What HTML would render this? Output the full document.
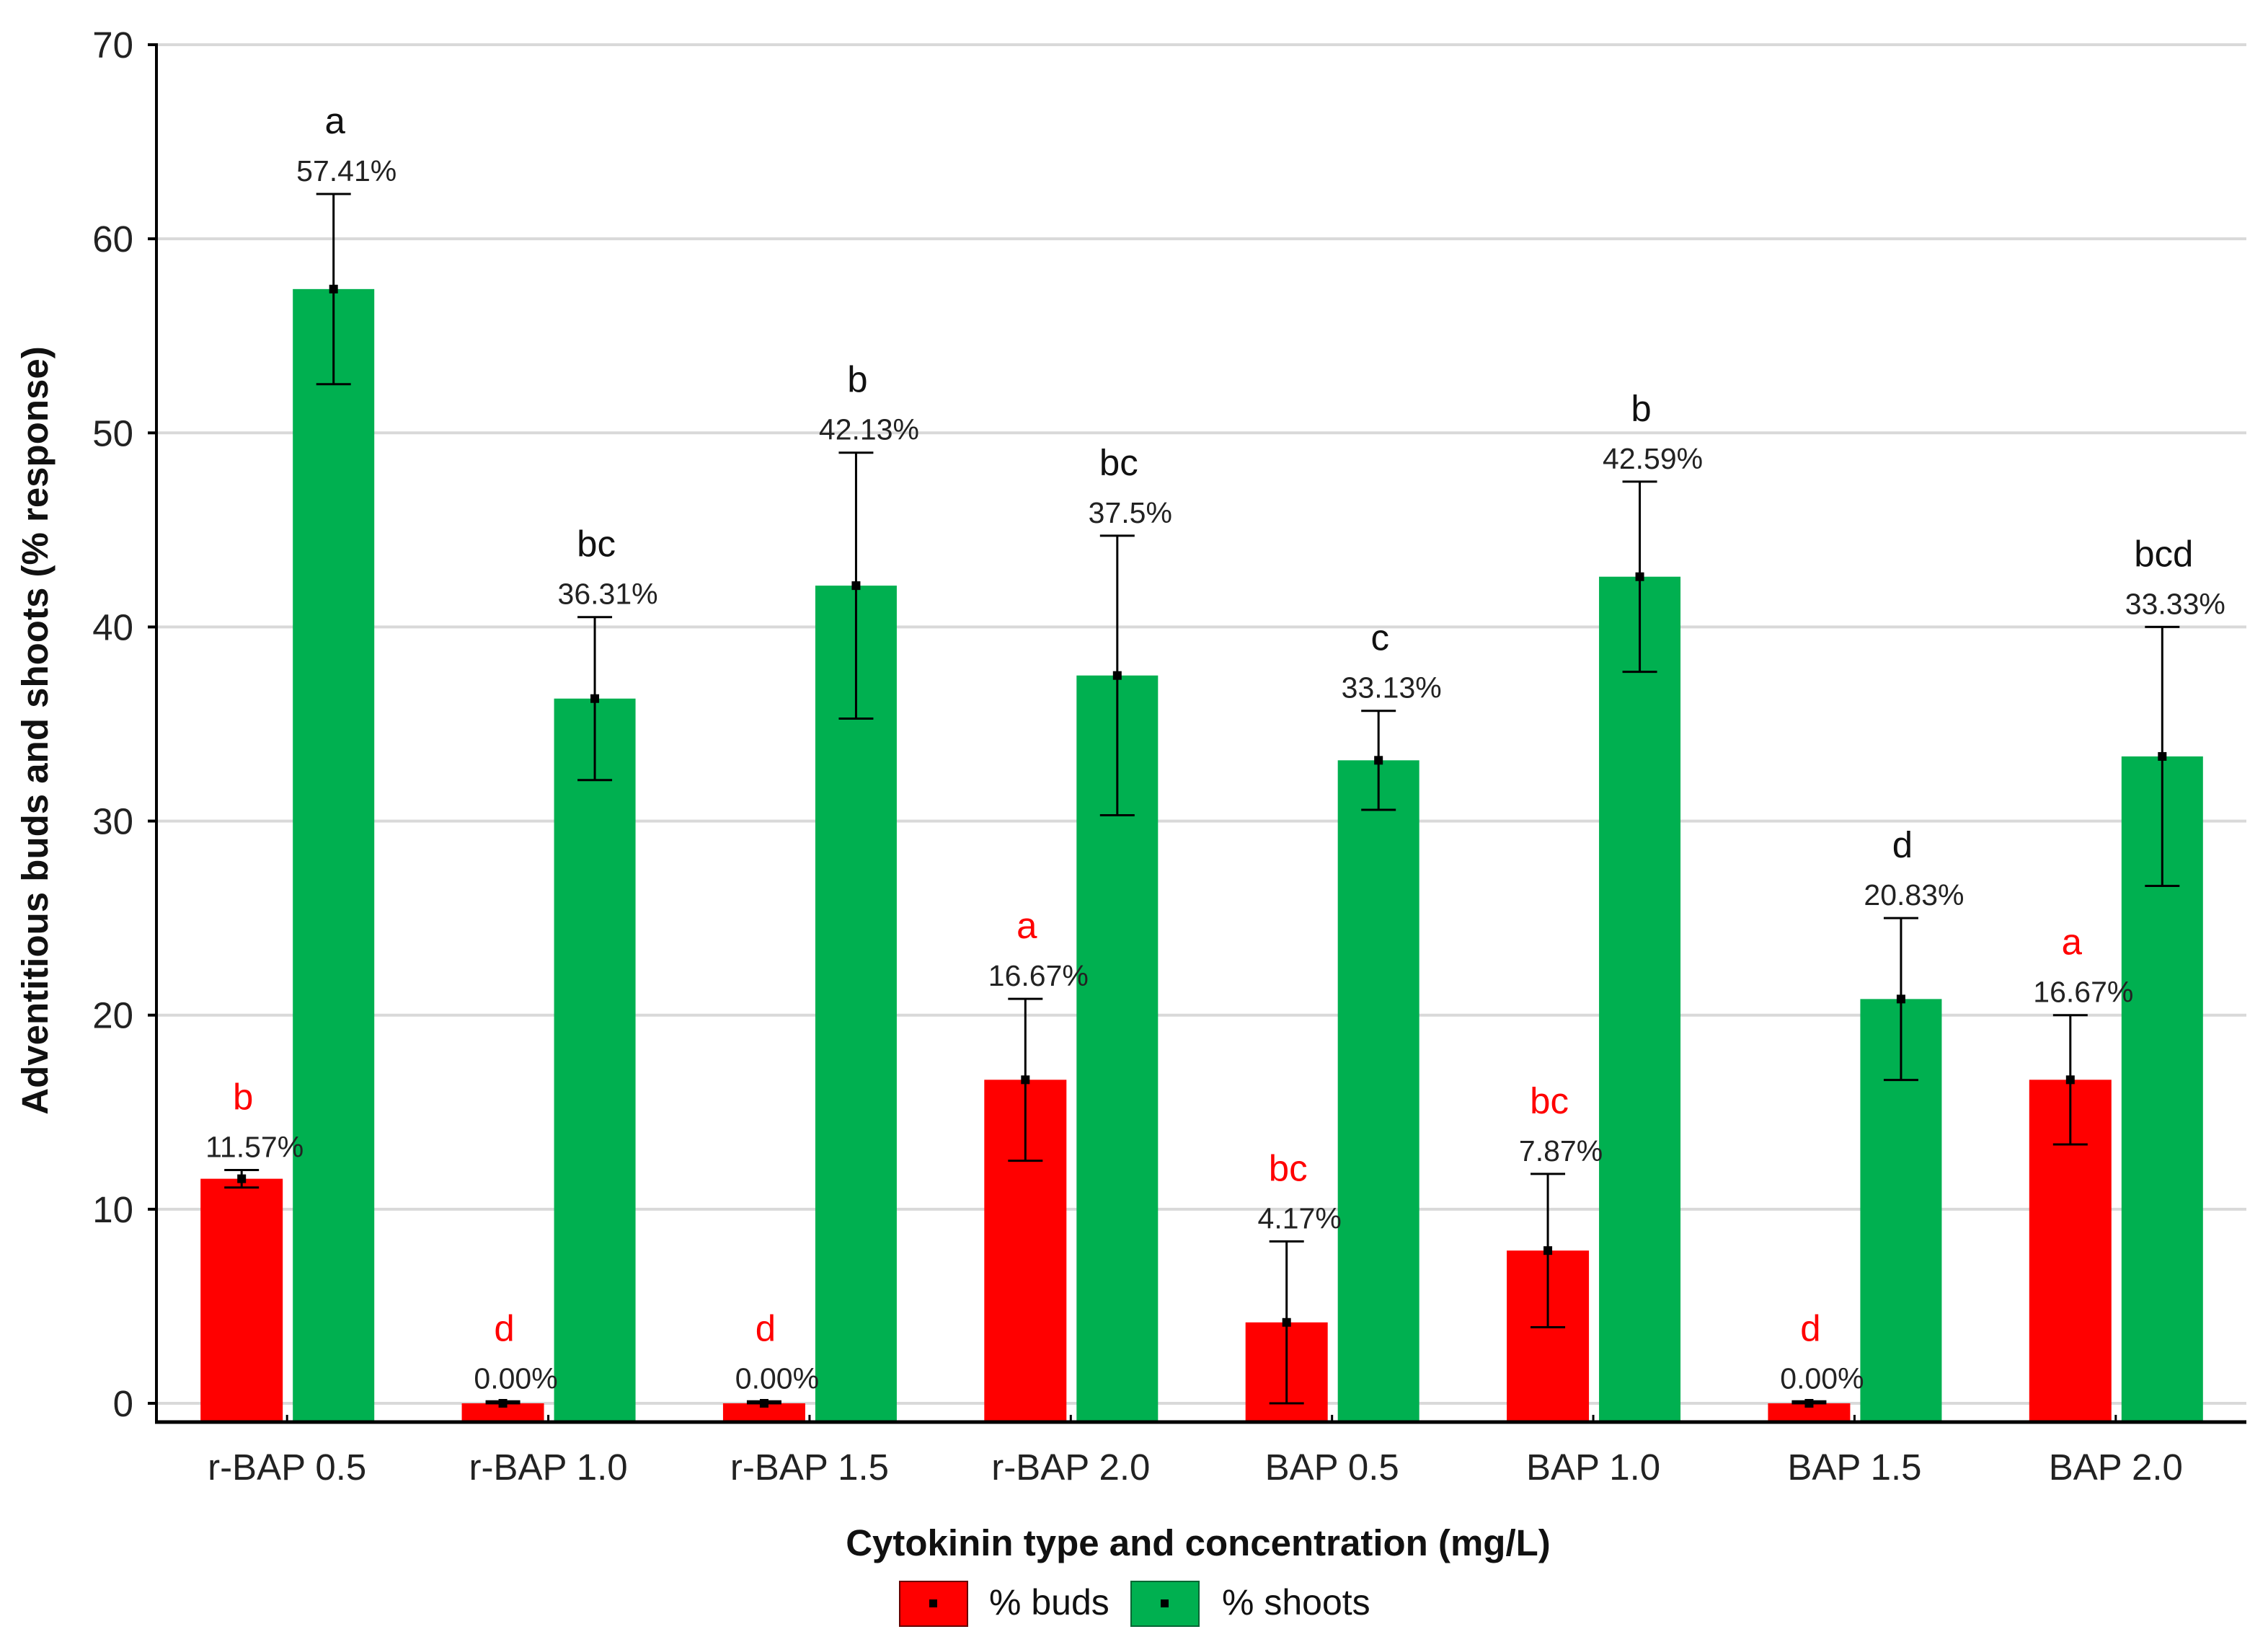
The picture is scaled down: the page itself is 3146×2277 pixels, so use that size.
<!DOCTYPE html>
<html><head><meta charset="utf-8"><style>
html,body{margin:0;padding:0;background:#fff}
svg{display:block}
text{font-family:"Liberation Sans",Arial,sans-serif}
</style></head><body>
<svg id="chart" width="3146" height="2277" viewBox="0 0 3146 2277" xmlns="http://www.w3.org/2000/svg">
<g id="grid"></g>
<g id="bars"></g>
<g id="axes"></g>
<g id="labels"></g>
<text x="0" y="0" transform="translate(66,1013) rotate(-90)" text-anchor="middle" font-size="51" font-weight="bold" fill="#111">Adventitious buds and shoots (% response)</text>
<text x="1662" y="2157" text-anchor="middle" font-size="51" font-weight="bold" fill="#111">Cytokinin type and concentration (mg/L)</text>
<g>
<g>
<rect x="1248" y="2193" width="94" height="62" fill="#ff0000" stroke="#600" stroke-width="2"/>
<rect x="1289" y="2218" width="11" height="11" fill="#000"/>
<text x="1372" y="2239" font-size="50" fill="#111">% buds</text>
</g>
<g>
<rect x="1569" y="2193" width="94" height="62" fill="#00b050" stroke="#063" stroke-width="2"/>
<rect x="1610" y="2218" width="11" height="11" fill="#000"/>
<text x="1695" y="2239" font-size="50" fill="#111">% shoots</text>
</g>
</g>
</svg>
<script>
const categories = ["r-BAP 0.5","r-BAP 1.0","r-BAP 1.5","r-BAP 2.0","BAP 0.5","BAP 1.0","BAP 1.5","BAP 2.0"];
const budsValues = [11.57,0,0,16.67,4.17,7.87,0,16.67];
const budsErrors = [0.45,0.1,0.1,4.17,4.17,3.95,0.1,3.33];
const budsLetters = ["b","d","d","a","bc","bc","d","a"];
const budsLabels = ["11.57%","0.00%","0.00%","16.67%","4.17%","7.87%","0.00%","16.67%"];
const shootsValues = [57.41,36.31,42.13,37.5,33.13,42.59,20.83,33.33];
const shootsErrors = [4.9,4.2,6.85,7.2,2.55,4.9,4.17,6.67];
const shootsLetters = ["a","bc","b","bc","c","b","d","bcd"];
const shootsLabels = ["57.41%","36.31%","42.13%","37.5%","33.13%","42.59%","20.83%","33.33%"];
const yTicks = [0,10,20,30,40,50,60,70];

const NS="http://www.w3.org/2000/svg";
const X0=217,X1=3116,Y0=1946,Y70=62,AXY=1972;
const y=v=>Y0-(v/70)*(Y0-Y70);
const band=(X1-X0)/categories.length;
const cx=i=>X0+band*(i+0.5);
function mk(parent,tag,attrs,txt){const e=document.createElementNS(NS,tag);for(const k in attrs)e.setAttribute(k,attrs[k]);if(txt!==undefined)e.textContent=txt;document.getElementById(parent).appendChild(e);return e;}

yTicks.forEach(t=>{
  const g=mk('grid','line',{x1:X0,x2:X1,y1:y(t),y2:y(t),stroke:'#d9d9d9','stroke-width':4});
  
  
  const tk=mk('axes','line',{x1:X0-12,x2:X0,y1:y(t),y2:y(t),stroke:'#000','stroke-width':4});
  
  
  const tl=mk('axes','text',{x:185,y:y(t)+18,'text-anchor':'end','font-size':51,fill:'#222'},String(t));
  
  
});
const ya=mk('axes','line',{x1:X0,x2:X0,y1:Y70-2,y2:AXY+2,stroke:'#000','stroke-width':4});


const xa=mk('axes','line',{x1:X0-2,x2:X1,y1:AXY,y2:AXY,stroke:'#000','stroke-width':5});



function series(vals,errs,labels,letters,color,letterColor,off0,off1,nm){
  vals.forEach((v,i)=>{
    const c=cx(i),xl=c+off0,xr=c+off1,xm=(xl+xr)/2;
    const top=y(v);
    const b=mk('bars','rect',{x:xl,y:top,width:xr-xl,height:AXY-top,fill:color});
    
    
    const hi=y(v+errs[i]),lo=y(Math.max(0,v-errs[i]));
    const e=mk('bars','path',{d:`M${xm-24},${hi}H${xm+24}M${xm},${hi}V${lo}M${xm-24},${lo}H${xm+24}`,stroke:'#000','stroke-width':3,fill:'none'});
    
    
    const m=mk('bars','rect',{x:xm-6,y:top-6,width:12,height:12,fill:'#000'});
    
    
    const vl=mk('labels','text',{x:xm+18,y:hi-18,'text-anchor':'middle','font-size':41,fill:'#222'},labels[i]);
    
    
    const ll=mk('labels','text',{x:xm+2,y:hi-84,'text-anchor':'middle','font-size':51,fill:letterColor},letters[i]);
    
    
  });
}
series(budsValues,budsErrors,budsLabels,budsLetters,'#ff0000','#ff0000',-120,-6,'buds');
series(shootsValues,shootsErrors,shootsLabels,shootsLetters,'#00b050','#111',8,121,'shoots');

categories.forEach((c,i)=>{
  const t=mk('axes','line',{x1:cx(i),x2:cx(i),y1:AXY-10,y2:AXY,stroke:'#000','stroke-width':3});
  
  
  const l=mk('axes','text',{x:cx(i),y:2052,'text-anchor':'middle','font-size':51,fill:'#222'},c);
  
  
});
</script>
</body></html>
